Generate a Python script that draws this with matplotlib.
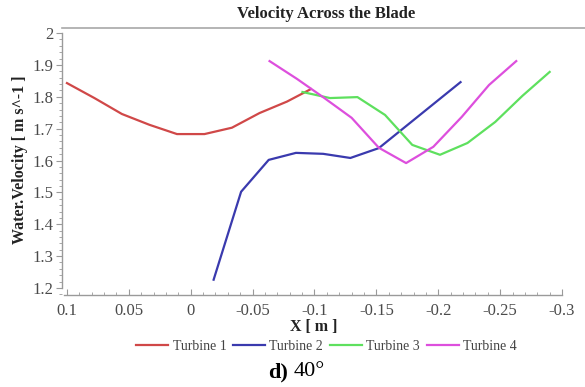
import numpy as np
import matplotlib.pyplot as plt
from matplotlib.lines import Line2D
from matplotlib.ticker import FixedLocator, MultipleLocator

plt.rcParams['font.family'] = ['Liberation Serif', 'DejaVu Serif']

# values
x1 = [0.1, 0.0778, 0.0556, 0.0333, 0.0111, -0.0111, -0.0333, -0.0556, -0.0778, -0.097]
t1 = [1.843, 1.796, 1.746, 1.712, 1.683, 1.683, 1.703, 1.749, 1.785, 1.824]

x2 = [-0.0185, -0.0407, -0.063, -0.085, -0.107, -0.129, -0.152, -0.174, -0.196, -0.218]
t2 = [1.226, 1.502, 1.602, 1.624, 1.621, 1.608, 1.639, 1.708, 1.777, 1.846]

x3 = [-0.0903, -0.1125, -0.1347, -0.157, -0.179, -0.2014, -0.2236, -0.246, -0.268, -0.290]
t3 = [1.815, 1.796, 1.799, 1.743, 1.649, 1.618, 1.655, 1.721, 1.803, 1.878]

x4 = [-0.0637, -0.0859, -0.108, -0.130, -0.152, -0.174, -0.196, -0.219, -0.241, -0.263]
t4 = [1.912, 1.856, 1.796, 1.734, 1.640, 1.592, 1.643, 1.737, 1.837, 1.912]

names = ['Turbine 1', 'Turbine 2', 'Turbine 3', 'Turbine 4']
colors = ['#d04848', '#3a3aae', '#5ee05e', '#dd4fdd']

xticks = [0.1, 0.05, 0, -0.05, -0.1, -0.15, -0.2, -0.25, -0.3]
xlabels = ['0.1', '0.05', '0', '-0.05', '-0.1', '-0.15', '-0.2', '-0.25', '-0.3']
yticks = [1.2, 1.3, 1.4, 1.5, 1.6, 1.7, 1.8, 1.9, 2.0]
ylabels = ['1.2', '1.3', '1.4', '1.5', '1.6', '1.7', '1.8', '1.9', '2']

W, H = 585, 387
fig = plt.figure(figsize=(W / 100, H / 100), dpi=100)
ax = fig.add_axes([62 / W, (H - 295) / H, (566 - 62) / W, (295 - 27) / H])

for xs, ys, c, n in zip([x1, x2, x3, x4], [t1, t2, t3, t4], colors, names):
    ax.plot(xs, ys, color=c, lw=1.6, label=n)

ax.set_xlim(0.104, -0.3032)
ax.set_ylim(1.178, 2.019)

gray = '#9a9a9a'
ax.spines['top'].set_visible(False)
ax.spines['right'].set_visible(False)
ax.spines['left'].set_bounds(1.2, 2.0)
ax.spines['bottom'].set_bounds(-0.3, 0.102)
for s in ['left', 'bottom']:
    ax.spines[s].set_color(gray)
    ax.spines[s].set_linewidth(1.0)

ax.xaxis.set_major_locator(FixedLocator(xticks))
ax.set_xticklabels(xlabels)
ax.xaxis.set_minor_locator(MultipleLocator(0.01))
ax.yaxis.set_major_locator(FixedLocator(yticks))
ax.set_yticklabels(ylabels)
ax.yaxis.set_minor_locator(MultipleLocator(0.02))

ax.tick_params(axis='x', which='major', direction='in', length=4, color=gray,
               labelsize=12, labelcolor='#4a4a4a', pad=6)
ax.tick_params(axis='x', which='minor', direction='in', length=2.5, color=gray)
ax.tick_params(axis='y', which='major', direction='out', length=4, color=gray,
               labelsize=12, labelcolor='#4a4a4a', pad=2)
ax.tick_params(axis='y', which='minor', direction='out', length=2.5, color=gray)

# top border line of the plot region
fig.add_artist(Line2D([62 / W, 1.0], [(H - 27.5) / H] * 2, color='#a8a8a8', lw=1.2))

fig.text(326 / W, (H - 14) / H, 'Velocity Across the Blade', ha='center', va='center',
         fontsize=12, fontweight='bold', color='#222222')
fig.text(20 / W, (H - 160) / H, 'Water.Velocity [ m s^-1 ]', rotation=90, ha='center',
         va='center', fontsize=11.5, fontweight='bold', color='#222222')
fig.text(314 / W, (H - 327) / H, 'X [ m ]', ha='center', va='center',
         fontsize=11.5, fontweight='bold', color='#222222')

fig.legend(loc='center', bbox_to_anchor=(326.5 / W, (H - 346) / H), ncol=4,
           frameon=False, fontsize=10, handlelength=2.3, handletextpad=0.3,
           columnspacing=0.5, labelcolor='#444444')

fig.text(288 / W, (H - 372) / H, 'd)', ha='right', va='center', fontsize=16, fontweight='bold')
fig.text(294 / W, (H - 372) / H, '40°', ha='left', va='center', fontsize=16)

fig.savefig('out.png', dpi=100)
